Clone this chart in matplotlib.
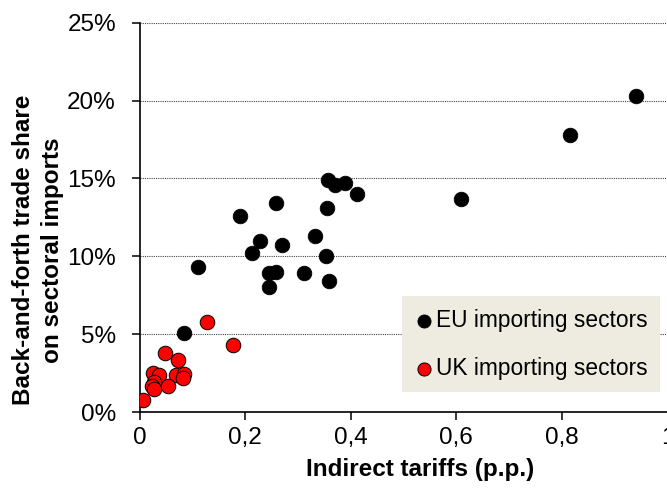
import matplotlib
matplotlib.use("Agg")
import matplotlib.pyplot as plt

plt.rcParams['font.family'] = ['Liberation Sans', 'DejaVu Sans']

# EU importing sectors
eu_x = [0.940, 0.816, 0.608, 0.357, 0.370, 0.390, 0.412, 0.356, 0.332, 0.270,
        0.258, 0.354, 0.311, 0.359, 0.191, 0.228, 0.214, 0.110, 0.246, 0.258,
        0.245, 0.085]
eu_y = [20.3, 17.8, 13.7, 14.9, 14.6, 14.7, 14.0, 13.1, 11.3, 10.7,
        13.4, 10.0, 8.9, 8.4, 12.6, 11.0, 10.2, 9.3, 8.9, 9.0,
        8.0, 5.1]
# UK importing sectors
uk_x = [0.128, 0.178, 0.048, 0.073, 0.025, 0.037, 0.069, 0.084, 0.082, 0.028,
        0.023, 0.027, 0.054, 0.006]
uk_y = [5.75, 4.3, 3.8, 3.35, 2.5, 2.4, 2.4, 2.45, 2.2, 1.9,
        1.7, 1.5, 1.7, 0.8]

x_ticks = [0, 0.2, 0.4, 0.6, 0.8, 1.0]
x_tick_labels = ['0', '0,2', '0,4', '0,6', '0,8', '1']
y_ticks = [0, 5, 10, 15, 20, 25]
y_tick_labels = ['0%', '5%', '10%', '15%', '20%', '25%']

W, H = 667, 494
fig = plt.figure(figsize=(W / 100, H / 100), dpi=100)
left, right, top, bottom = 139.5, 667.5, 22.7, 412.0
ax = fig.add_axes([left / W, 1 - bottom / H, (right - left) / W, (bottom - top) / H])
ax.set_xlim(0, 1)
ax.set_ylim(0, 25)

for y in y_ticks[1:]:
    ax.axhline(y, color='#444444', linestyle=(0, (1, 1)), linewidth=0.8, zorder=1)

ax.scatter(eu_x, eu_y, s=110, c='black', edgecolors='black', linewidths=0.6,
           zorder=3, label='EU importing sectors')
ax.scatter(uk_x, uk_y, s=110, c='#ff0000', edgecolors='black', linewidths=0.7,
           zorder=4, label='UK importing sectors')

for s in ['top', 'right']:
    ax.spines[s].set_visible(False)
ax.spines['left'].set_linewidth(1.2)
ax.spines['bottom'].set_linewidth(1.2)

ax.set_xticks(x_ticks)
ax.set_xticklabels(x_tick_labels)
ax.set_yticks(y_ticks)
ax.set_yticklabels(y_tick_labels)
ax.tick_params(axis='both', direction='out', length=6, width=1.1, labelsize=17.5,
               colors='black')
ax.tick_params(axis='x', pad=5)
ax.tick_params(axis='y', pad=11)
for lbl in ax.get_xticklabels():
    lbl.set_clip_on(False)

fig.text(420 / W, 1 - 469 / H, 'Indirect tariffs (p.p.)', ha='center', va='center',
         fontsize=17.5, fontweight='bold')
fig.text(38 / W, 1 - 250 / H, 'Back-and-forth trade share\non sectoral imports',
         ha='center', va='center', rotation=90, fontsize=17.5, fontweight='bold',
         linespacing=1.3)

leg = ax.legend(loc='upper left', bbox_to_anchor=(402 / W, 1 - 296 / H),
                bbox_transform=fig.transFigure, borderaxespad=0,
                frameon=True, fancybox=False, fontsize=16.4, markerscale=0.9,
                handletextpad=0.1, labelspacing=1.1, borderpad=0.55,
                handlelength=0.85)
leg.get_frame().set_facecolor('#eeebe1')
leg.get_frame().set_edgecolor('none')
leg.get_frame().set_alpha(1)

fig.savefig('out.png', dpi=100)
